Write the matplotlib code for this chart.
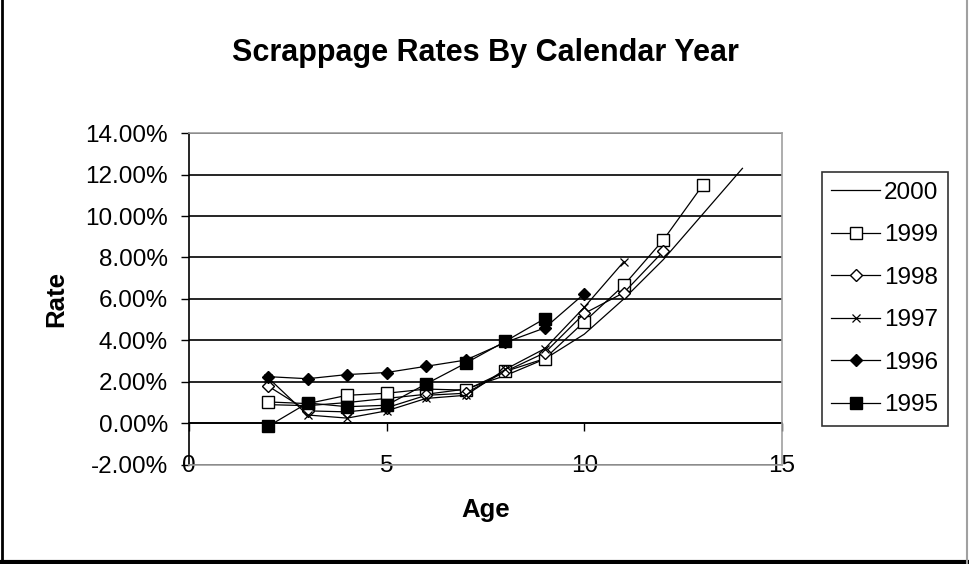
import matplotlib
matplotlib.use("Agg")
import matplotlib.pyplot as plt
from matplotlib.lines import Line2D
from matplotlib.ticker import FuncFormatter, MultipleLocator

plt.rcParams['font.family'] = ['Liberation Sans', 'DejaVu Sans']
plt.rcParams['axes.unicode_minus'] = False

# ages and scrappage rates (%) by calendar year
ages_2000 = [2, 3, 4, 5, 6, 7, 8, 9, 10, 11, 12, 13, 14]
rate_2000 = [0.9, 0.85, 1.0, 1.2, 1.4, 1.65, 2.3, 3.1, 4.3, 6.0, 7.9, 10.1, 12.3]
ages_1999 = [2, 3, 4, 5, 6, 7, 8, 9, 10, 11, 12, 13]
rate_1999 = [1.03, 0.95, 1.35, 1.45, 1.65, 1.6, 2.5, 3.12, 4.9, 6.66, 8.85, 11.5]
ages_1998 = [2, 3, 4, 5, 6, 7, 8, 9, 10, 11, 12]
rate_1998 = [1.8, 0.6, 0.55, 0.75, 1.35, 1.45, 2.5, 3.4, 5.3, 6.3, 8.3]
ages_1997 = [2, 3, 4, 5, 6, 7, 8, 9, 10, 11]
rate_1997 = [2.2, 0.4, 0.25, 0.6, 1.2, 1.35, 2.6, 3.6, 5.6, 7.8]
ages_1996 = [2, 3, 4, 5, 6, 7, 8, 9, 10]
rate_1996 = [2.25, 2.15, 2.35, 2.45, 2.75, 3.05, 3.9, 4.6, 6.25]
ages_1995 = [2, 3, 4, 5, 6, 7, 8, 9]
rate_1995 = [-0.15, 0.98, 0.8, 0.87, 1.9, 2.9, 3.95, 5.05]

x_ticks = [0, 5, 10, 15]

fig = plt.figure(figsize=(9.69, 5.64), dpi=100)
ax = fig.add_axes([0.195, 0.176, 0.612, 0.588])

lw = 0.9
ax.plot(ages_2000, rate_2000, color='black', lw=lw, label='2000')
ax.plot(ages_1999, rate_1999, color='black', lw=lw, marker='s', ms=8,
        mfc='white', mec='black', mew=1.0, label='1999')
ax.plot(ages_1998, rate_1998, color='black', lw=lw, marker='D', ms=6,
        mfc='white', mec='black', mew=1.0, label='1998')
ax.plot(ages_1997, rate_1997, color='black', lw=lw, marker='x', ms=6,
        mew=0.9, label='1997')
ax.plot(ages_1996, rate_1996, color='black', lw=lw, marker='D', ms=6.5,
        mfc='black', mec='black', label='1996')
ax.plot(ages_1995, rate_1995, color='black', lw=lw, marker='s', ms=8,
        mfc='black', mec='black', label='1995')

ax.set_xlim(0, 15)
ax.set_ylim(-2, 14)
ax.yaxis.set_major_locator(MultipleLocator(2))
ax.yaxis.set_major_formatter(FuncFormatter(lambda v, p: f"{v:.2f}%"))
ax.set_xticks(x_ticks)
ax.grid(axis='y', color='black', lw=1.2)
ax.set_axisbelow(True)

for s in ['top', 'right', 'bottom']:
    ax.spines[s].set_color('#a0a0a0')
    ax.spines[s].set_linewidth(1.2)
ax.spines['left'].set_color('black')
ax.spines['left'].set_linewidth(1.2)

ax.tick_params(axis='y', direction='out', length=6, width=1, labelsize=17.5, pad=9)
ax.tick_params(axis='x', length=0, labelsize=17.5, pad=-7)

# x axis line crosses at 0%, with tick marks there
sec = ax.secondary_xaxis(0.125)
sec.set_xticks(x_ticks)
sec.set_xticklabels([])
sec.tick_params(direction='out', length=6, width=1)
sec.spines['bottom'].set_color('black')
sec.spines['bottom'].set_linewidth(1.2)

ax.set_title('Scrappage Rates By Calendar Year', fontsize=22, fontweight='bold', pad=52)
ax.set_ylabel('Rate', fontsize=18.5, fontweight='bold', labelpad=12)
ax.set_xlabel('Age', fontsize=18.5, fontweight='bold', labelpad=15)

leg = ax.legend(loc='upper left', bbox_to_anchor=(1.067, 0.882), fontsize=17.5,
                frameon=True, fancybox=False, edgecolor='black',
                handlelength=2.0, handletextpad=0.15, labelspacing=0.84,
                borderpad=0.4, borderaxespad=0)
leg.get_frame().set_linewidth(1.2)

# chart-area border
fig.add_artist(Line2D([0.002, 0.002], [0, 1], color='black', lw=2.0))
fig.add_artist(Line2D([0, 1], [0.003, 0.003], color='black', lw=3.0))
fig.add_artist(Line2D([0.998, 0.998], [0, 1], color='#a0a0a0', lw=1.5))

fig.savefig('out.png', dpi=100)
